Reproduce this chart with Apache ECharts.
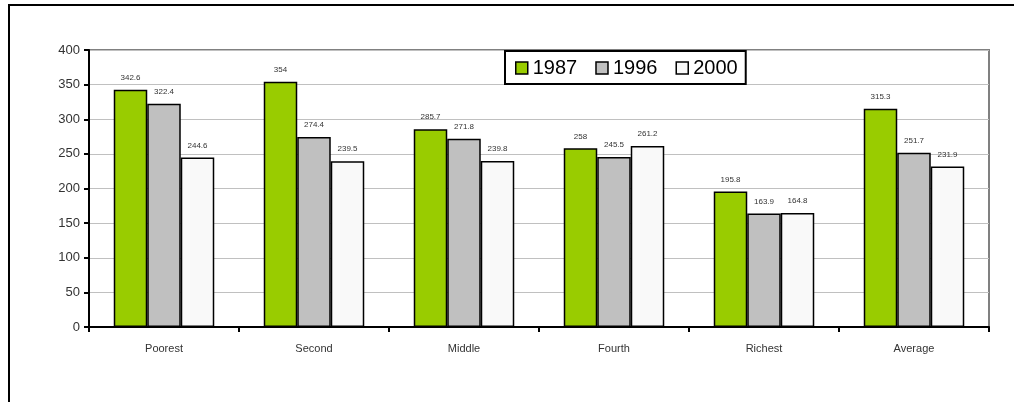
<!DOCTYPE html>
<html>
<head>
<meta charset="utf-8">
<script src="https://cdn.jsdelivr.net/npm/echarts@6/dist/echarts.min.js"></script>
<style>
  html, body { margin: 0; padding: 0; background: #fff; overflow: hidden; }
  #frame { position: absolute; left: 8px; top: 4px; width: 1100px; height: 500px; border: 2px solid #000; box-sizing: border-box; }
  #chart { position: absolute; left: 0; top: 0; width: 1014px; height: 402px; }
</style>
</head>
<body>
<div id="frame"></div>
<div id="chart"></div>
<script>
const categories = ['Poorest', 'Second', 'Middle', 'Fourth', 'Richest', 'Average'];
const years = ['1987', '1996', '2000'];
const values1987 = [342.6, 354, 285.7, 258, 195.8, 315.3];
const values1996 = [322.4, 274.4, 271.8, 245.5, 163.9, 251.7];
const values2000 = [244.6, 239.5, 239.8, 261.2, 164.8, 231.9];
const yTicks = [0, 50, 100, 150, 200, 250, 300, 350, 400];

const colors = ['#99cc00', '#c0c0c0', '#f9f9f9'];
const font = '"Liberation Sans", Arial, sans-serif';

const chart = echarts.init(document.getElementById('chart'));

const makeSeries = (name, data, color) => ({
  name,
  type: 'bar',
  data,
  barGap: '0%',
  barCategoryGap: '33%',
  itemStyle: { color, borderColor: '#000', borderWidth: 1.5 },
  label: {
    show: true,
    position: 'top',
    distance: 8,
    fontSize: 8,
    color: '#333',
    fontFamily: font,
  },
});

chart.setOption({
  animation: false,
  textStyle: { fontFamily: font },
  grid: {
    left: 89,
    right: 25,
    top: 50,
    bottom: 75,
    show: true,
    borderColor: '#808080',
    borderWidth: 2,
  },
  legend: {
    data: years,
    left: 505,
    top: 51,
    padding: [7, 8, 6, 10],
    itemWidth: 12,
    itemHeight: 12,
    itemGap: 18,
    icon: 'rect',
    borderColor: '#000',
    borderWidth: 2,
    backgroundColor: '#fff',
    itemStyle: { borderColor: '#000', borderWidth: 1.5 },
    textStyle: { fontSize: 20, color: '#000', fontFamily: font },
  },
  xAxis: {
    type: 'category',
    data: categories,
    axisLine: { lineStyle: { color: '#000', width: 2 } },
    axisTick: { show: true, length: 5, lineStyle: { color: '#000', width: 2 } },
    axisLabel: { fontSize: 11, color: '#333', margin: 16, fontFamily: font },
  },
  yAxis: {
    type: 'value',
    min: yTicks[0],
    max: yTicks[yTicks.length - 1],
    interval: 50,
    axisLine: { show: true, lineStyle: { color: '#000', width: 2 } },
    axisTick: { show: true, length: 5, lineStyle: { color: '#000', width: 2 } },
    axisLabel: { fontSize: 13, color: '#333', margin: 9, fontFamily: font },
    splitLine: { lineStyle: { color: '#c0c0c0', width: 1 } },
  },
  series: [
    makeSeries(years[0], values1987, colors[0]),
    makeSeries(years[1], values1996, colors[1]),
    makeSeries(years[2], values2000, colors[2]),
  ],
});
</script>
</body>
</html>
